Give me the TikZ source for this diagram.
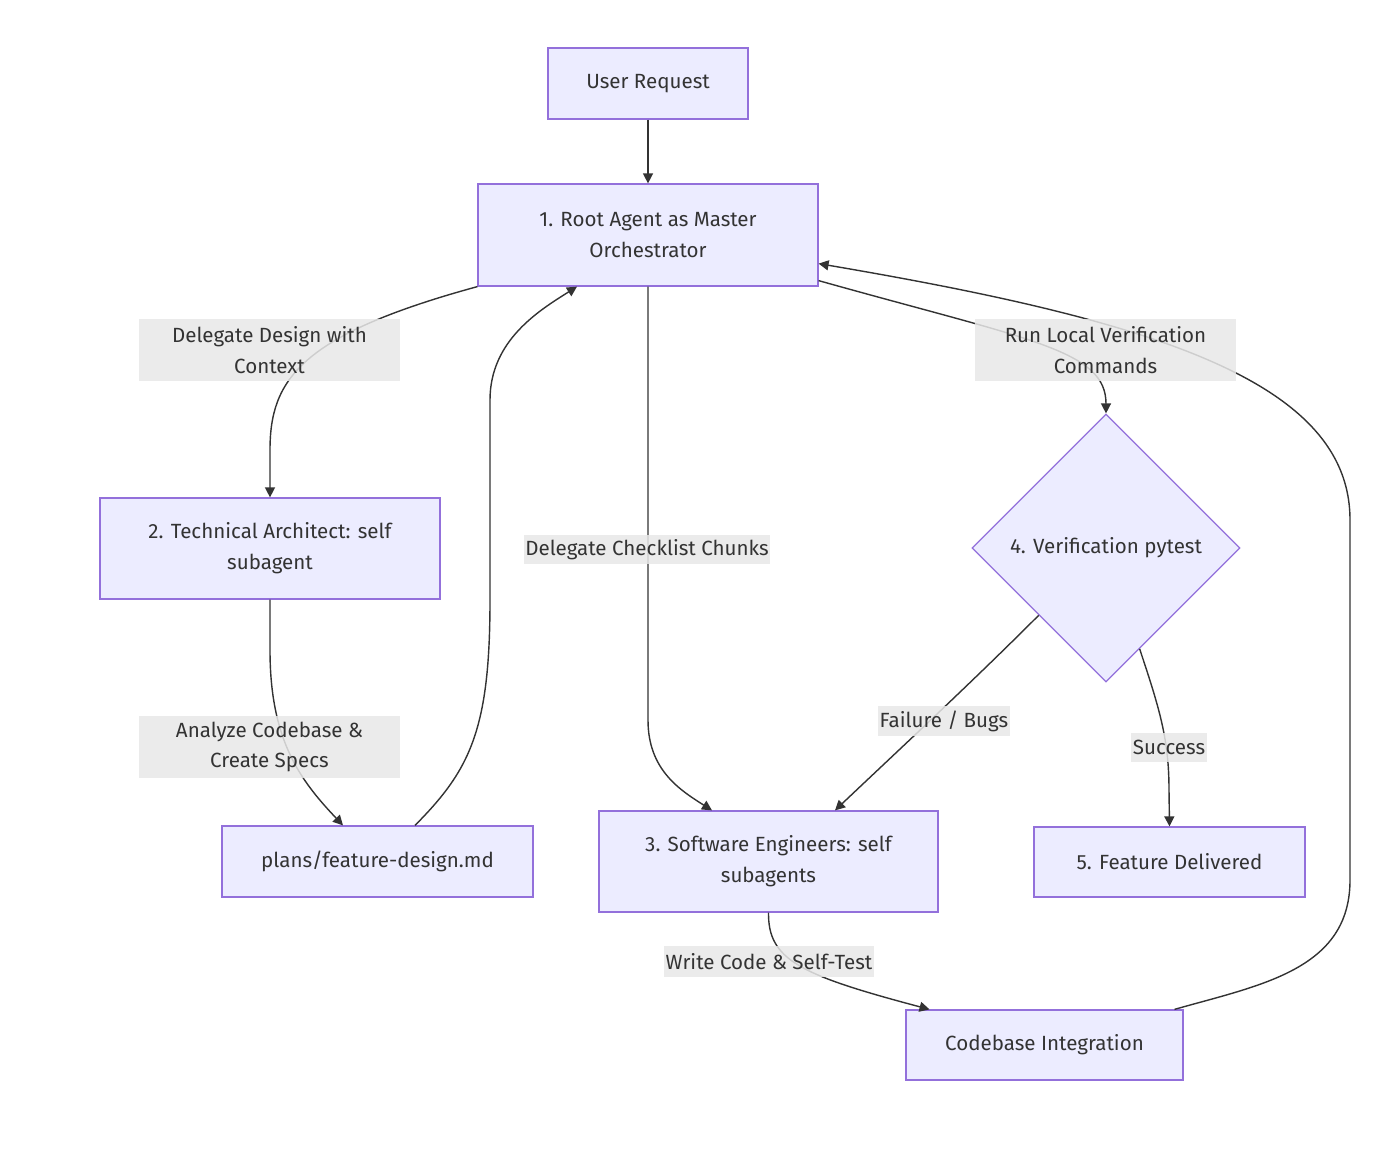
\documentclass[tikz,border=0pt]{standalone}
\usepackage{fontspec}
\setmainfont{Fira Sans}
\usepackage{xcolor}
\usetikzlibrary{positioning,shapes.geometric,arrows.meta,calc}
\definecolor{nodefill}{HTML}{ECECFF}
\definecolor{nodeline}{HTML}{9370DB}
\definecolor{edgecol}{HTML}{333333}
\definecolor{lblfill}{HTML}{E8E8E8}
\begin{document}
\begin{tikzpicture}[
    x=0.02cm, y=-0.02cm,
    every node/.style={font=\fontsize{11.7}{17.6}\selectfont, text=edgecol},
    box/.style={rectangle, draw=nodeline, line width=0.7pt, fill=nodefill, align=center, inner sep=2pt},
    decision/.style={diamond, draw=nodeline, line width=0.7pt, fill=nodefill, aspect=1, inner sep=0pt, minimum width=5.36cm, minimum height=5.36cm},
    edgelabel/.style={rectangle, fill=lblfill, fill opacity=0.85, text opacity=1, align=center, inner sep=1pt},
    arrow/.style={-{Triangle[length=0.2cm, width=0.2cm]}, draw=edgecol, line width=0.8pt}
]
\useasboundingbox (0,0) rectangle (1400,1152);
\node[box, minimum width=4cm, minimum height=1.42cm] (user) at (648,83.5) {User Request};
\node[box, minimum width=6.8cm, minimum height=2.04cm] (root) at (648,235) {1. Root Agent as Master\\Orchestrator};
\node[box, minimum width=6.8cm, minimum height=2.02cm] (arch) at (270,548.5) {2. Technical Architect: self\\subagent};
\node[box, minimum width=6.22cm, minimum height=1.42cm] (plans) at (377.5,861.5) {plans/feature-design.md};
\node[box, minimum width=6.78cm, minimum height=2.02cm] (soft) at (768.5,861.5) {3. Software Engineers: self\\subagents};
\node[decision] (verify) at (1106,548) {4. Verification pytest};
\node[box, minimum width=5.42cm, minimum height=1.4cm] (feat) at (1169.5,862) {5. Feature Delivered};
\node[box, minimum width=5.54cm, minimum height=1.4cm] (integ) at (1044.5,1045) {Codebase Integration};
\draw[arrow] (user) -- (root);
\draw[arrow] (root.south west) .. controls (300,335) and (270,380) .. (270,450) -- (arch.north);
\draw[arrow] (arch.south) -- (270,650) .. controls (270,740) and (300,780) .. ([xshift=-0.69cm]plans.north);
\draw[arrow] ([xshift=0.75cm]plans.north) .. controls (470,770) and (490,730) .. (490,600) -- (490,400) .. controls (490,340) and (540,310) .. ([xshift=-1.42cm]root.south);
\draw[arrow] (root.south) -- (648,720) .. controls (648,770) and (680,790) .. ([xshift=-1.13cm]soft.north);
\draw[arrow] ([yshift=0.12cm]root.south east) .. controls (1030,340) and (1106,350) .. (verify.north);
\draw[arrow] (verify.south west) .. controls (972,682) and (903,746) .. ([xshift=1.33cm]soft.north);
\draw[arrow] ($(verify.south)!0.25!(verify.east)$) .. controls (1160,710) and (1169,740) .. (1169,790) -- (feat.north);
\draw[arrow] (soft.south) .. controls (768,960) and (800,975) .. ([xshift=-2.3cm]integ.north);
\draw[arrow] ([xshift=2.6cm]integ.north) .. controls (1260,985) and (1350,970) .. (1350,880) -- (1350,520) .. controls (1350,380) and (1150,320) .. ([yshift=0.46cm]root.south east);
\node[edgelabel, minimum width=5.22cm, minimum height=1.24cm] (lbldesign) at (269.5,350) {Delegate Design with\\Context};
\node[edgelabel, minimum width=5.22cm, minimum height=1.24cm] (lblrun) at (1105.5,350) {Run Local Verification\\Commands};
\node[edgelabel, minimum height=0.58cm] (lblchunks) at (647,549.5) {Delegate Checklist Chunks};
\node[edgelabel, minimum width=5.22cm, minimum height=1.24cm] (lblspecs) at (269.5,747) {Analyze Codebase \&\\Create Specs};
\node[edgelabel, minimum height=0.6cm] (lblfail) at (944,721) {Failure / Bugs};
\node[edgelabel, minimum height=0.58cm] (lblok) at (1169,747.5) {Success};
\node[edgelabel, minimum height=0.62cm] (lblwrite) at (769,961.5) {Write Code \& Self-Test};
\end{tikzpicture}
\end{document}
